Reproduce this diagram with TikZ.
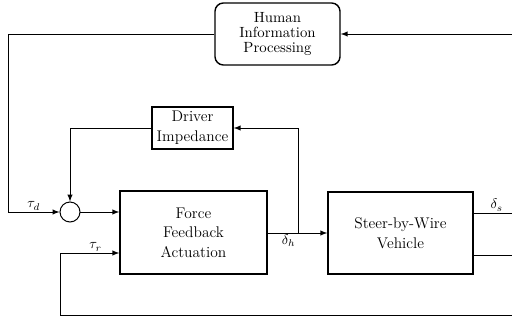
\documentclass[tikz,border=0pt]{standalone}
\usepackage{amsmath}
\usepackage{amssymb}
\usepackage{tikz}

\begin{document}
\begin{tikzpicture}[x=0.025cm, y=-0.025cm, line width=0.7pt,
    block/.style={draw, line width=1pt, align=center, inner sep=0pt, font=\fontsize{11}{14}\selectfont},
    sig/.style={inner sep=1pt}]
    \useasboundingbox (0, 0) rectangle (512, 321);
    % nodes: hip di sum ffa sbw
    \node[block, rounded corners=6pt, minimum width=3.125cm, minimum height=1.55cm,
          font=\fontsize{10.5}{11}\selectfont] (hip) at (277.5, 34) {Human\\Information\\Processing};
    \node[block, minimum width=2.025cm, minimum height=1.05cm] (di) at (192.5, 128) {Driver\\Impedance};
    \node[draw, circle, minimum size=0.5cm, inner sep=0pt] (sum) at (70, 212) {};
    \node[block, minimum width=3.675cm, minimum height=2.075cm] (ffa) at (193.5, 232.5) {Force\\Feedback\\Actuation};
    \node[block, minimum width=3.625cm, minimum height=2.05cm] (sbw) at (400.5, 233) {Steer-by-Wire\\Vehicle};
    % coordinates: corners and free ends
    \coordinate (tl) at (8, 34);
    \coordinate (rin) at (512, 34);
    \coordinate (tap) at (298, 233);
    \coordinate (bl) at (60, 315);
    \coordinate (br) at (512, 315);
    \coordinate (ds) at (512, 213);
    \coordinate (dv) at (512, 255);

    % edges: rin-hip, hip-sum, di-sum, sum-ffa
    \draw[-latex] (rin) -- (hip.east);
    \draw[-latex] (hip.west) -- (tl) |- node[sig, pos=0.75, above] {$\tau_d$} (sum.west);
    \draw[-latex] (di.west) -| (sum.north);
    \draw[-latex] (sum.east) -- (ffa.west |- sum);
    % edges: ffa-sbw, tap-di, bottom loop
    \draw[-latex] (ffa.east |- tap) -- node[sig, pos=0.35, below] {$\delta_h$} (sbw.west |- tap);
    \draw[-latex] (tap) |- (di.east);
    \draw[-latex] (br) -- (bl) |- node[sig, pos=0.8, above] {$\tau_r$} (ffa.west |- 0, 253);
    % edges: sbw outputs
    \draw (sbw.east |- ds) -- node[sig, pos=0.6, above] {$\delta_s$} (ds);
    \draw (sbw.east |- dv) -- (dv);
\end{tikzpicture}
\end{document}
